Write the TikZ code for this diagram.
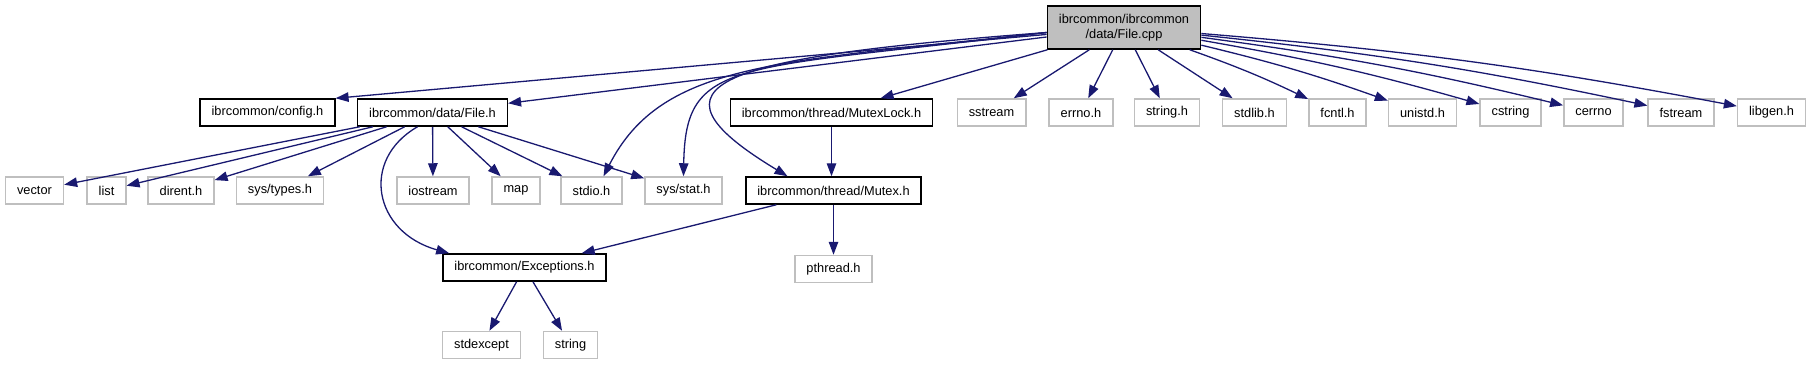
\documentclass[tikz,border=0pt]{standalone}
\usepackage{fontspec}
\setmainfont{Liberation Sans}
\usepackage{tikz}
\usetikzlibrary{arrows.meta, positioning}
\definecolor{myblue}{RGB}{25,25,112}
\definecolor{mygrey}{RGB}{191,191,191}
\tikzset{
  incblock/.style={rectangle, draw=black, fill=white, line width=1.5pt,
    minimum height=27pt, inner xsep=11.5pt, inner ysep=2pt,
    font=\fontsize{12.8}{15}\selectfont},
  sysblock/.style={incblock, draw=mygrey},
  srcblock/.style={incblock, fill=mygrey, minimum height=43pt, align=center},
  arrow/.style={-{Triangle[length=13pt, width=9.5pt]}, line width=1.3pt, color=myblue}
}

\begin{document}
\begin{tikzpicture}[x=1pt, y=1pt]
  \useasboundingbox (0,0) rectangle (1811,-365);

  % source file
  \node[srcblock] (cpp) at (1124,-27.5) {ibrcommon/ibrcommon\\/data/File.cpp};

  % first row
  \node[incblock] (config) at (267.5,-112.5) {ibrcommon/config.h};
  \node[incblock] (fileh) at (432.5,-112.5) {ibrcommon/data/File.h};
  \node[incblock] (mutexlock) at (831.5,-112.5) {ibrcommon/thread/MutexLock.h};
  \node[sysblock] (sstream) at (991.5,-112.5) {sstream};
  \node[sysblock] (errnoh) at (1081,-112.5) {errno.h};
  \node[sysblock] (stringh) at (1167,-112.5) {string.h};
  \node[sysblock] (stdlibh) at (1254.5,-112.5) {stdlib.h};
  \node[sysblock] (fcntlh) at (1337.5,-112.5) {fcntl.h};
  \node[sysblock] (unistdh) at (1422.5,-112.5) {unistd.h};
  \node[sysblock] (cstring) at (1510.5,-112.5) {cstring};
  \node[sysblock] (cerrno) at (1593.5,-112.5) {cerrno};
  \node[sysblock] (fstream) at (1681,-112.5) {fstream};
  \node[sysblock] (libgen) at (1771.5,-112.5) {libgen.h};

  % second row
  \node[sysblock] (vector) at (34.5,-190.5) {vector};
  \node[sysblock] (list) at (106.5,-190.5) {list};
  \node[sysblock] (dirent) at (181,-190.5) {dirent.h};
  \node[sysblock] (systypes) at (280,-190.5) {sys/types.h};
  \node[sysblock] (iostream) at (433,-190.5) {iostream};
  \node[sysblock] (map) at (516,-190.5) {map};
  \node[sysblock] (stdio) at (591.5,-190.5) {stdio.h};
  \node[sysblock] (sysstat) at (683.5,-190.5) {sys/stat.h};
  \node[incblock] (mutex) at (833.5,-190.5) {ibrcommon/thread/Mutex.h};

  % lower rows
  \node[incblock] (exceptions) at (524.5,-267.5) {ibrcommon/Exceptions.h};
  \node[sysblock, below=50pt of mutex] (pthread) {pthread.h};
  \node[sysblock] (stdexcept) at (481.5,-345) {stdexcept};
  \node[sysblock] (string) at (570.5,-345) {string};

  % includes of File.cpp
  \draw[arrow] (cpp) -- (config.north east);
  \draw[arrow] (cpp) -- (fileh);
  \draw[arrow] (cpp) -- (mutexlock);
  \draw[arrow] ([yshift=-5pt]cpp.west) .. controls +(-267,-30) and +(59,115.5) .. ([xshift=12pt]stdio.north);
  \draw[arrow] ([yshift=-5pt]cpp.west) .. controls +(-314.5,-38) and +(2,118.5) .. (sysstat.north);
  \draw[arrow] ([yshift=-5pt]cpp.west) .. controls +(-330,-25) and +(-154,93) .. ([xshift=-46pt]mutex.north);
  \draw[arrow] (cpp) -- (sstream);
  \draw[arrow] (cpp) -- (errnoh);
  \draw[arrow] (cpp) -- (stringh);
  \draw[arrow] (cpp) -- (stdlibh);
  \draw[arrow] (cpp) to[bend left=3] (fcntlh);
  \draw[arrow] (cpp) to[bend left=3] (unistdh);
  \draw[arrow] (cpp) to[bend left=3] (cstring);
  \draw[arrow] (cpp) to[bend left=3] (cerrno);
  \draw[arrow] (cpp) to[bend left=3] (fstream);
  \draw[arrow] (cpp) to[bend left=3] (libgen);

  % includes of File.h
  \draw[arrow] (fileh) -- (vector);
  \draw[arrow] (fileh) -- (list);
  \draw[arrow] (fileh) -- (dirent);
  \draw[arrow] (fileh) -- (systypes);
  \draw[arrow] ([xshift=-15pt]fileh.south) .. controls +(-57.6,-33.2) and +(-75.7,21.2) .. ([xshift=7pt]exceptions.north west);
  \draw[arrow] (fileh) -- (iostream);
  \draw[arrow] (fileh) -- (map);
  \draw[arrow] (fileh) -- (stdio);
  \draw[arrow] (fileh) -- (sysstat);

  % thread headers
  \draw[arrow] (mutexlock.south) -- (mutexlock.south |- mutex.north);
  \draw[arrow] (mutex) -- (exceptions);
  \draw[arrow] (mutex) -- (pthread);

  \draw[arrow] (exceptions) -- (stdexcept);
  \draw[arrow] (exceptions) -- (string);
\end{tikzpicture}
\end{document}
